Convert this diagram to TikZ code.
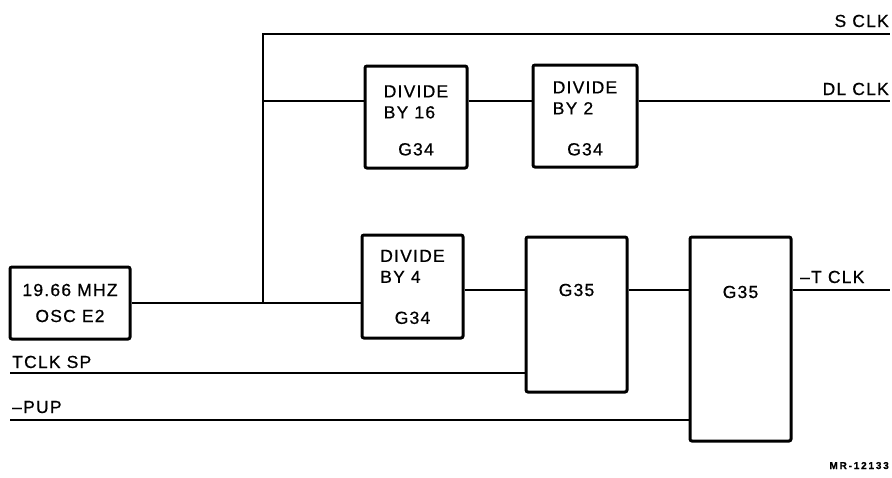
\documentclass[tikz,border=0pt]{standalone}
\usepackage{fontspec}
\setmainfont{Liberation Sans}[LetterSpace=7, FakeBold=0.6]
\usepackage{tikz}
\usetikzlibrary{positioning,calc}

\newcommand{\divbox}[3]{\begin{tabular}{@{}l@{}}\rule{0pt}{#3}DIVIDE\\BY #1\\[#2]\multicolumn{1}{@{}c@{}}{G34}\end{tabular}}

\begin{document}
\begin{tikzpicture}[
    x=1pt, y=-1pt,
    blk/.style={rectangle, rounded corners=2pt, draw, line width=3pt,
                inner sep=0pt, align=center,
                font=\fontsize{17.5}{21}\selectfont},
    txt/.style={inner sep=0pt, font=\fontsize{17.5}{21}\selectfont},
    tag/.style={inner sep=0pt, font=\fontsize{10}{12}\selectfont\bfseries
                \addfontfeature{LetterSpace=18}},
    wire/.style={line width=2.3pt}
  ]
  \useasboundingbox (0,0) rectangle (892,477);

  \node[blk, minimum width=120, minimum height=72] (osc) at (70,303)
    {19.66 MHZ\\[5pt]OSC E2};
  \node[blk, minimum width=102, minimum height=102] (div16) at (416,117)
    {\divbox{16}{16pt}{25pt}};
  \node[blk, minimum width=104, minimum height=102] (div2) at (585,116)
    {\divbox{2}{20pt}{23pt}};
  \node[blk, minimum width=101, minimum height=103] (div4) at (412.5,286.5)
    {\divbox{4}{20pt}{19pt}};
  \node[blk, minimum width=101, minimum height=155] (g35a) at (576.5,314.5) {};
  \node[blk, minimum width=101, minimum height=204] (g35b) at (740.5,339) {};

  \coordinate (jn) at (263,303);
  \coordinate (sclk) at (890,34);
  \coordinate (dlclk) at (890,101);
  \coordinate (tclk) at (890,290);
  \coordinate (tsp) at (10,373);
  \coordinate (pup) at (10,420);

  \node[txt] (g35a-t) at (g35a.center |- tclk) {G35};
  \node[txt] (g35b-t) at ($(g35b.center |- tclk)+(0,2)$) {G35};

  \draw[wire] (osc.east) -- (osc.east -| div4.west);
  \draw[wire] (jn) -- (jn |- sclk) -- (sclk);
  \draw[wire] (jn |- dlclk) -- (div16.west |- dlclk);
  \draw[wire] (div16.east |- dlclk) -- (div2.west |- dlclk);
  \draw[wire] (div2.east |- dlclk) -- (dlclk);
  \draw[wire] (div4.east |- tclk) -- (g35a.west |- tclk);
  \draw[wire] (g35a.east |- tclk) -- (g35b.west |- tclk);
  \draw[wire] (g35b.east |- tclk) -- (tclk);
  \draw[wire] (tsp) -- (tsp -| g35a.west);
  \draw[wire] (pup) -- (pup -| g35b.west);

  \node[txt, anchor=base east] (sclk-l) at (889,27) {S CLK};
  \node[txt, anchor=base east] (dlclk-l) at (889,95) {DL CLK};
  \node[txt, anchor=base west] (tclk-l) at (800,283) {--T CLK};
  \node[txt, anchor=base west] (tsp-l) at (12,368) {TCLK SP};
  \node[txt, anchor=base west] (pup-l) at (12,413) {--PUP};
  \node[tag, anchor=base east] (mr) at (889,469) {MR-12133};
\end{tikzpicture}
\end{document}
